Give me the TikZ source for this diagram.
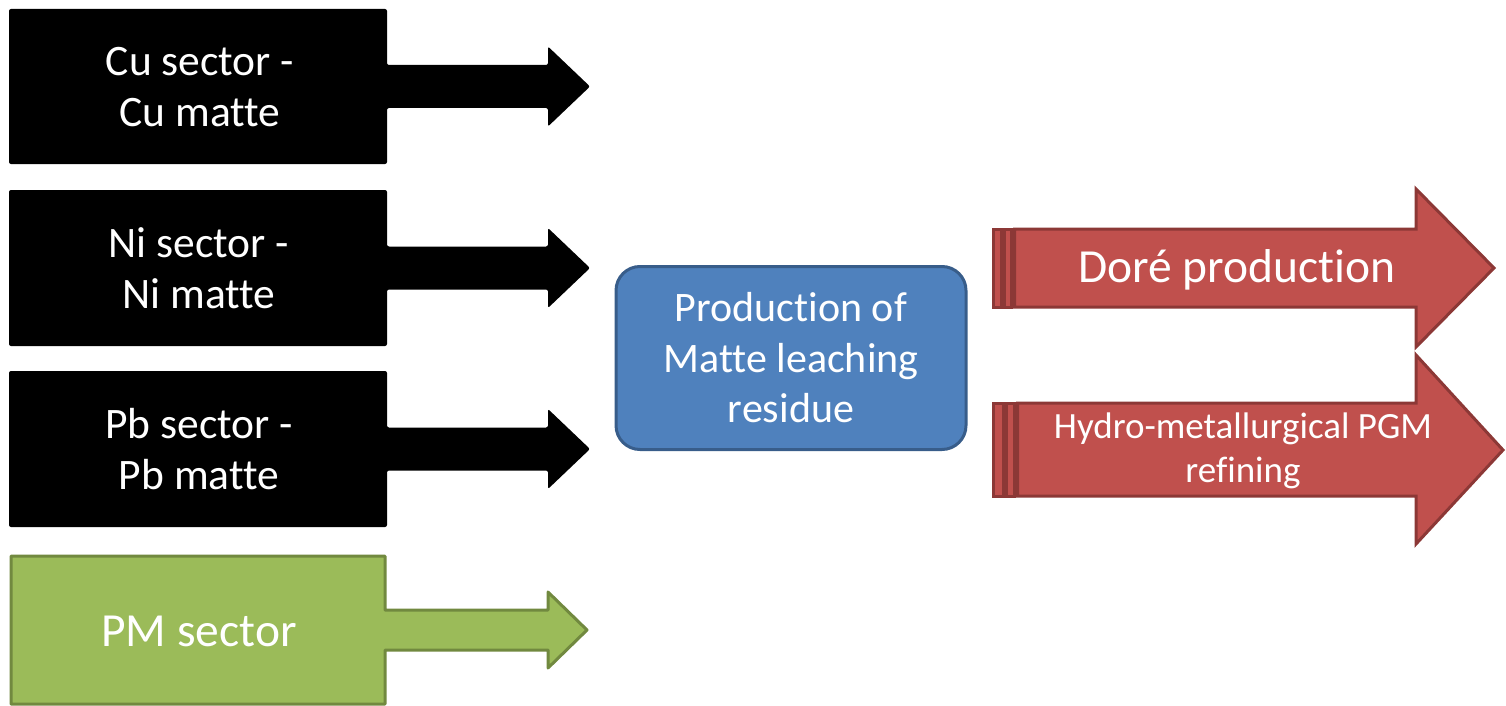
\documentclass[tikz,border=0pt]{standalone}
\usepackage{fontspec}
\setmainfont[Ligatures={NoCommon}]{Carlito}
\definecolor{redfill}{HTML}{C0504D}
\definecolor{redline}{HTML}{8C3836}
\definecolor{greenfill}{HTML}{9BBB59}
\definecolor{greenline}{HTML}{71893F}
\definecolor{bluefill}{HTML}{4F81BD}
\definecolor{blueline}{HTML}{385D8A}
\newcommand\sectorshape[5]{%
  % #1 left, #2 right, #3 top, #4 bottom, #5 style
  \path[#5] (#1,#3) -- (#2,#3) -- (#2,{(#3+#4)/2-21.5}) -- (548,{(#3+#4)/2-21.5})
    -- (548,{(#3+#4)/2-40}) -- (590,{(#3+#4)/2}) -- (548,{(#3+#4)/2+40})
    -- (548,{(#3+#4)/2+21.5}) -- (#2,{(#3+#4)/2+21.5}) -- (#2,#4) -- (#1,#4) -- cycle;}
\tikzset{
  blackshape/.style={fill=black, rounded corners=2pt},
  greenshape/.style={fill=greenfill, draw=greenline, line width=3pt, line join=round},
  redshape/.style={fill=redfill, draw=redline, line width=3pt, line join=miter},
  label/.style={text=white, align=center, inner sep=0pt},
  sectortext/.style={label, font=\fontsize{43.5}{51}\selectfont},
}
\begin{document}
\begin{tikzpicture}[x=1pt, y=-1pt]
\useasboundingbox (0,0) rectangle (1506,706);
% left sector arrows
\sectorshape{9}{387}{9}{164}{blackshape}
\sectorshape{9}{387}{190}{346}{blackshape}
\sectorshape{9}{387}{371}{527}{blackshape}
\path[greenshape] (11,556) -- (385,556) -- (385,610) -- (548,610) -- (548,592) -- (587,630)
  -- (548,668) -- (548,650) -- (385,650) -- (385,704) -- (11,704) -- cycle;
\node[sectortext] (cu) at (200,87.5) {Cu sector -\\Cu matte};
\node[sectortext] (ni) at (199,268.5) {Ni sector -\\Ni matte};
\node[sectortext] (pb) at (199,449.5) {Pb sector -\\Pb matte};
\node[label, font=\fontsize{47.5}{55}\selectfont] (pm) at (199,631) {PM sector};
% central box
\node[draw=blueline, fill=bluefill, line width=3pt, rounded corners=24pt,
  minimum width=350pt, minimum height=183pt, inner sep=0pt] (box) at (791,358) {};
\node[label, font=\fontsize{42}{50.5}\selectfont] (boxtext) at (box.center) {Production of\\Matte leaching\\residue};
% red striped arrows
\path[redshape] (993,229) rectangle (1001,307);
\path[redshape] (1004.5,229) rectangle (1011,307);
\path[redshape] (1014.5,229) -- (1416,229) -- (1416,189) -- (1494,268) -- (1416,347) -- (1416,307) -- (1014.5,307) -- cycle;
\node[label, font=\fontsize{47.5}{55}\selectfont] (dore) at (1237,270) {Doré production};
\path[redshape] (993,403) rectangle (1003,496);
\path[redshape] (1006.5,403) rectangle (1014,496);
\path[redshape] (1017.5,403) -- (1416,403) -- (1416,355) -- (1503,450) -- (1416,544) -- (1416,496) -- (1017.5,496) -- cycle;
\node[label, font=\fontsize{37}{44}\selectfont] (hydro) at (1243,451) {Hydro-metallurgical PGM\\refining};
\end{tikzpicture}
\end{document}
